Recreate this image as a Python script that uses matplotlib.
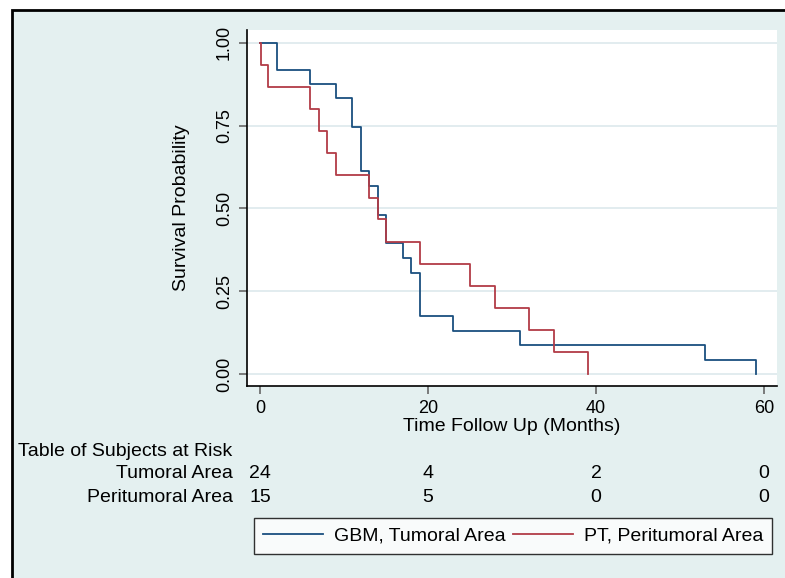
import matplotlib
matplotlib.use("Agg")
import matplotlib.pyplot as plt
import matplotlib.transforms as mtransforms
from matplotlib.patches import Rectangle

plt.rcParams['font.family'] = ['Liberation Sans', 'DejaVu Sans']

# Kaplan-Meier step data
gbm_time = [0, 2, 6, 9, 11, 12, 13, 14, 15, 17, 18, 19, 23, 31, 53, 59]
gbm_surv = [1.0, 0.917, 0.875, 0.833, 0.745, 0.613, 0.569, 0.480, 0.395,
            0.352, 0.306, 0.175, 0.131, 0.088, 0.044, 0.0]
pt_time = [0, 0.1, 1, 6, 7, 8, 9, 13, 14, 15, 19, 25, 28, 32, 35, 39]
pt_surv = [1.0, 0.933, 0.867, 0.800, 0.733, 0.667, 0.600, 0.533, 0.467,
           0.400, 0.333, 0.267, 0.200, 0.133, 0.067, 0.0]

# risk table
risk_times = [0, 20, 40, 60]
risk_tumoral = [24, 4, 2, 0]
risk_peritumoral = [15, 5, 0, 0]
risk_rows = ['Tumoral Area', 'Peritumoral Area']

x_ticks = [0, 20, 40, 60]
y_ticks = [0, 0.25, 0.5, 0.75, 1.0]
y_ticklabels = ['0.00', '0.25', '0.50', '0.75', '1.00']

bg = '#E4F0F0'
blue = '#1A4F7F'
red = '#B23C47'

W, H = 785, 578
fig = plt.figure(figsize=(W / 100, H / 100), dpi=100, facecolor='white')

# outer frame: only left and top edges visible
frame = Rectangle((12 / W, -0.1), 1.2, (H - 10) / H + 0.1, transform=fig.transFigure,
                  facecolor=bg, edgecolor='black', linewidth=2, zorder=-10)
fig.patches.append(frame)

ax = fig.add_axes([247 / W, (H - 386) / H, (777 - 247) / W, (386 - 30) / H])
ax.set_facecolor('white')
ax.set_xlim(-1.55, 61.55)
ax.set_ylim(-0.036, 1.039)

for y in y_ticks:
    ax.axhline(y, color='#DDE9EC', linewidth=1.2, zorder=1)

ax.step(gbm_time, gbm_surv, where='post', color=blue, linewidth=1.3, zorder=3,
        label='GBM, Tumoral Area')
ax.step(pt_time, pt_surv, where='post', color=red, linewidth=1.3, zorder=3,
        label='PT, Peritumoral Area')

ax.spines['top'].set_visible(False)
ax.spines['right'].set_visible(False)
ax.spines['left'].set_linewidth(1.2)
ax.spines['bottom'].set_linewidth(1.2)

ax.set_xticks(x_ticks)
ax.set_yticks(y_ticks)
ax.set_yticklabels(y_ticklabels, rotation=90, va='center')
ax.tick_params(axis='both', direction='out', length=6, width=1.2, color='#666666',
               labelsize=13, pad=4)
ax.set_xlabel('Time Follow Up (Months)', fontsize=14, labelpad=1)
ax.set_ylabel('Survival Probability', fontsize=14, labelpad=19)

# subjects at risk table
trans = mtransforms.blended_transform_factory(ax.transData, fig.transFigure)
fig.text(18 / W, 1 - 452 / H, 'Table of Subjects at Risk', fontsize=14,
         ha='left', va='center')
for row, vals, ypx in [(risk_rows[0], risk_tumoral, 474),
                       (risk_rows[1], risk_peritumoral, 497)]:
    fig.text(233 / W, 1 - ypx / H, row, fontsize=14, ha='right', va='center')
    for t, v in zip(risk_times, vals):
        ax.text(t, 1 - ypx / H, str(v), transform=trans, fontsize=14,
                ha='center', va='center', clip_on=False)

leg = ax.legend(loc='center', bbox_to_anchor=(513 / W, 1 - 536 / H),
                bbox_transform=fig.transFigure, ncol=2, fontsize=14,
                frameon=True, fancybox=False, edgecolor='black',
                handlelength=3.1, handletextpad=0.55, columnspacing=0.35,
                borderpad=0.45, borderaxespad=0)
leg.get_frame().set_linewidth(1.0)
leg.get_frame().set_facecolor('white')

fig.savefig('out.png', dpi=100, facecolor=fig.get_facecolor())
